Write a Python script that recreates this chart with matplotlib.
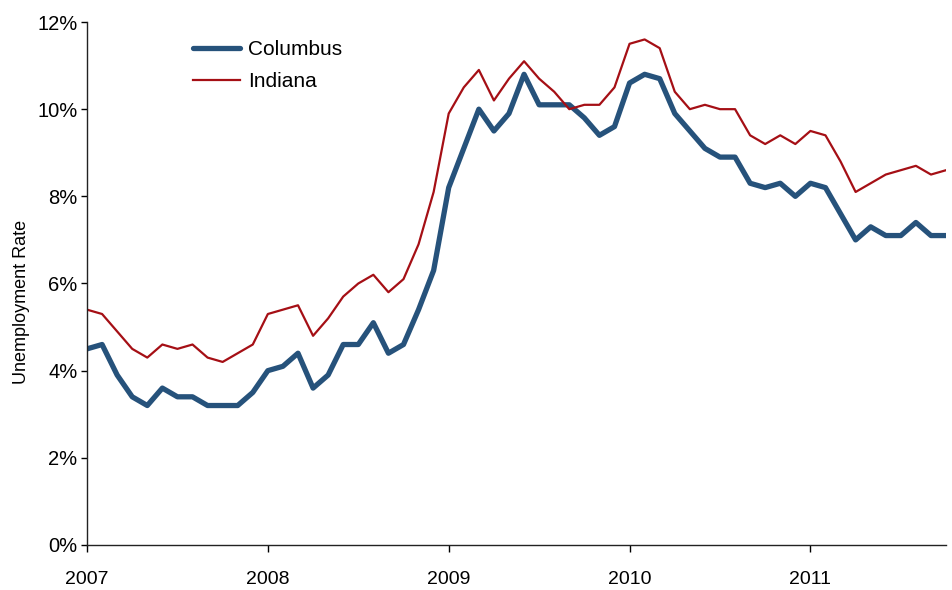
import matplotlib
matplotlib.use("Agg")
import matplotlib.pyplot as plt
from matplotlib.ticker import FuncFormatter

# Monthly unemployment rate (%), Jan 2007 - Oct 2011
columbus = [4.5, 4.6, 3.9, 3.4, 3.2, 3.6, 3.4, 3.4, 3.2, 3.2, 3.2, 3.5,
            4.0, 4.1, 4.4, 3.6, 3.9, 4.6, 4.6, 5.1, 4.4, 4.6, 5.4, 6.3,
            8.2, 9.1, 10.0, 9.5, 9.9, 10.8, 10.1, 10.1, 10.1, 9.8, 9.4, 9.6,
            10.6, 10.8, 10.7, 9.9, 9.5, 9.1, 8.9, 8.9, 8.3, 8.2, 8.3, 8.0,
            8.3, 8.2, 7.6, 7.0, 7.3, 7.1, 7.1, 7.4, 7.1, 7.1]
indiana = [5.4, 5.3, 4.9, 4.5, 4.3, 4.6, 4.5, 4.6, 4.3, 4.2, 4.4, 4.6,
           5.3, 5.4, 5.5, 4.8, 5.2, 5.7, 6.0, 6.2, 5.8, 6.1, 6.9, 8.1,
           9.9, 10.5, 10.9, 10.2, 10.7, 11.1, 10.7, 10.4, 10.0, 10.1, 10.1, 10.5,
           11.5, 11.6, 11.4, 10.4, 10.0, 10.1, 10.0, 10.0, 9.4, 9.2, 9.4, 9.2,
           9.5, 9.4, 8.8, 8.1, 8.3, 8.5, 8.6, 8.7, 8.5, 8.6]
years = ['2007', '2008', '2009', '2010', '2011']

months = list(range(len(columbus)))

plt.rcParams['font.family'] = ['Liberation Sans', 'DejaVu Sans']

fig = plt.figure(figsize=(9.53, 5.90), dpi=100)
ax = fig.add_axes([0.0913, 0.0763, 0.9014, 0.8864])

ax.plot(months, columbus, color='#26527b', linewidth=3.8, label='Columbus',
        solid_joinstyle='round', solid_capstyle='round')
ax.plot(months, indiana, color='#a50f15', linewidth=1.6, label='Indiana')

ax.set_xlim(0, len(columbus) - 1)
ax.set_ylim(0, 12)
ax.set_yticks(range(0, 13, 2))
ax.yaxis.set_major_formatter(FuncFormatter(lambda v, p: f'{int(v)}%'))
ax.set_xticks(range(0, len(columbus), 12))
ax.set_xticklabels(years, fontsize=14)

for s in ['top', 'right']:
    ax.spines[s].set_visible(False)
for s in ['left', 'bottom']:
    ax.spines[s].set_linewidth(1.0)
    ax.spines[s].set_color('#222222')

ax.tick_params(axis='y', direction='out', length=4, width=1, labelsize=14.5, pad=3)
ax.tick_params(axis='x', direction='out', length=5, width=1, pad=14)

ax.set_ylabel('Unemployment Rate', fontsize=13)
ax.yaxis.set_label_coords(-0.066, 0.465)

leg = ax.legend(loc='upper left', bbox_to_anchor=(0.1234, 0.965), frameon=False,
                fontsize=15, handlelength=2.26, handletextpad=0.38, labelspacing=0.62,
                borderaxespad=0, borderpad=0)

fig.savefig('out.png', dpi=100)
